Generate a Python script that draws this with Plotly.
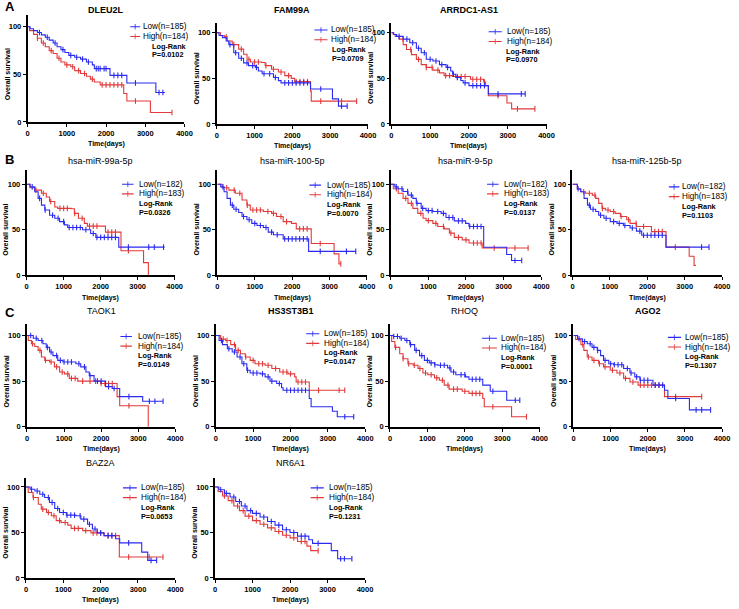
import numpy as np
import plotly.graph_objects as go

W, H = 739, 609

# ---------------- data ----------------
titles = ["DLEU2L", "FAM99A", "ARRDC1-AS1",
          "hsa-miR-99a-5p", "hsa-miR-100-5p", "hsa-miR-9-5p", "hsa-miR-125b-5p",
          "TAOK1", "HS3ST3B1", "RHOQ", "AGO2", "BAZ2A", "NR6A1"]
title_bold = [True, True, True, False, False, False, False, False, True, False, True, False, False]
n_low = ["185", "185", "185", "182", "185", "182", "182", "185", "185", "185", "185", "185", "185"]
n_high = ["184", "184", "184", "183", "184", "183", "183", "184", "184", "184", "184", "184", "184"]
p_values = ["0.0102", "0.0709", "0.0970", "0.0326", "0.0070", "0.0137", "0.1103",
            "0.0149", "0.0147", "0.0001", "0.1307", "0.0653", "0.1231"]
x_ticks = [0, 1000, 2000, 3000, 4000]
y_ticks = [0, 50, 100]

# DLEU2L
dleu2l_low_t = [0, 60, 150, 250, 350, 450, 550, 650, 750, 850, 950, 1050, 1200, 1350, 1500, 1650, 1700, 2100, 2530, 3270, 3500]
dleu2l_low_s = [100, 98, 96, 94, 91.5, 89, 86, 83, 79, 76, 73, 70, 68, 66, 63, 60, 56, 49, 41, 31, 31]
dleu2l_low_c = [300, 500, 700, 900, 1100, 1250, 1400, 1550, 1750, 1800, 1850, 1950, 2000, 2200, 2300, 2400, 2750, 3350, 3450]
dleu2l_high_t = [0, 50, 150, 250, 350, 450, 550, 650, 750, 850, 950, 1100, 1200, 1350, 1500, 1600, 1700, 1850, 2450, 2530, 3130, 3680]
dleu2l_high_s = [100, 96, 92, 88, 83, 79, 75, 72, 67, 63, 60, 58, 54, 51, 48, 45, 42, 39, 30, 22, 10, 10]
dleu2l_high_c = [250, 400, 600, 800, 1000, 1150, 1300, 1450, 1650, 1900, 2000, 2100, 2200, 2300, 2400, 2750, 3680]

# FAM99A
fam99a_low_t = [0, 60, 150, 250, 320, 450, 580, 710, 840, 1020, 1100, 1200, 1500, 1630, 1700, 2480, 3060, 3220, 3450]
fam99a_low_s = [100, 97, 94.6, 91, 87, 78, 72, 67, 64, 62, 58, 55, 51, 47.5, 45, 38.4, 27.5, 19.6, 19.6]
fam99a_low_c = [350, 500, 650, 800, 950, 1050, 1250, 1400, 1550, 1800, 1900, 2000, 2100, 2200, 2300, 2400, 2750, 3300, 3450]
fam99a_high_t = [0, 100, 200, 280, 410, 580, 710, 800, 890, 1190, 1280, 1450, 1630, 1800, 1970, 2060, 2480, 2500, 3700]
fam99a_high_s = [100, 97, 95.6, 91, 87, 82, 76.4, 71, 68, 67.4, 64, 60, 57, 53, 50, 46.4, 36, 25, 25]
fam99a_high_c = [250, 450, 650, 850, 1000, 1100, 1300, 1500, 1700, 1900, 2100, 2200, 2300, 2400, 2750, 3300, 3700]

# ARRDC1-AS1
arrdc1_low_t = [0, 60, 135, 305, 475, 645, 770, 900, 1070, 1240, 1410, 1530, 1580, 1660, 1790, 1850, 2000, 2500, 3450]
arrdc1_low_s = [100, 98, 96, 93, 89, 83, 78, 71, 69, 65, 62, 58, 54.5, 51, 47.6, 45, 42, 33, 33]
arrdc1_low_c = [200, 400, 550, 700, 850, 1000, 1150, 1300, 1450, 1600, 1700, 1900, 2100, 2200, 2300, 2400, 2750, 3350, 3450]
arrdc1_high_t = [0, 50, 100, 200, 305, 390, 517, 645, 770, 900, 1070, 1240, 1360, 1580, 2040, 2380, 2430, 2500, 2980, 3100, 3700]
arrdc1_high_s = [100, 98, 96, 93, 87, 81.6, 76, 70.8, 65, 62, 59, 56, 53, 52, 49, 46, 42, 31, 23, 16.6, 16.6]
arrdc1_high_c = [300, 500, 700, 900, 1050, 1200, 1400, 1500, 1700, 1800, 1900, 2100, 2200, 2300, 2400, 2750, 3250, 3700]

# hsa-miR-99a-5p
mir99a_low_t = [0, 90, 220, 310, 400, 490, 620, 760, 890, 1020, 1110, 1510, 1730, 1870, 2490, 3730]
mir99a_low_s = [100, 97, 91.7, 84.4, 77, 71.7, 66, 62.7, 59, 55.4, 52.5, 50, 46, 41.7, 31, 31]
mir99a_low_c = [150, 350, 500, 700, 850, 1000, 1150, 1250, 1350, 1450, 1600, 1800, 1900, 2000, 2100, 2200, 2300, 2400, 2750, 3300, 3450, 3700]
mir99a_high_t = [0, 90, 220, 400, 530, 620, 760, 840, 1200, 1290, 1400, 1560, 1640, 2130, 2550, 3160, 3290]
mir99a_high_s = [100, 96, 93.5, 90, 86, 81, 75, 73.5, 73, 68, 62.7, 57, 54, 47.5, 27, 14, 0]
mir99a_high_c = [250, 450, 650, 900, 1000, 1100, 1300, 1500, 1700, 1800, 1900, 2200, 2300, 2400, 2750]

# hsa-miR-100-5p
mir100_low_t = [0, 90, 180, 260, 350, 440, 570, 660, 790, 920, 1060, 1230, 1360, 1500, 1760, 2440, 3700]
mir100_low_s = [100, 97, 91.7, 84.4, 77, 72.5, 69, 64.5, 61, 57, 54.7, 52.5, 47.5, 44.6, 40, 26.4, 26.4]
mir100_low_c = [150, 400, 500, 700, 850, 1000, 1150, 1300, 1450, 1600, 1800, 1900, 2000, 2100, 2200, 2300, 2400, 2750, 3450, 3700]
mir100_high_t = [0, 130, 310, 480, 660, 790, 880, 1230, 1450, 1580, 1760, 1980, 2110, 2510, 3120, 3250, 3300]
mir100_high_s = [100, 96, 93.5, 90, 82.6, 77, 71.7, 70, 68, 64.5, 59, 57, 51, 35, 23.6, 12.7, 12.7]
mir100_high_c = [250, 450, 600, 800, 950, 1050, 1150, 1350, 1500, 1700, 1850, 2200, 2300, 2400, 2750, 3300]

# hsa-miR-9-5p
mir9_low_t = [0, 110, 200, 330, 460, 590, 680, 810, 940, 1120, 1340, 1470, 1690, 1990, 2080, 2470, 3080, 3210, 3480]
mir9_low_s = [100, 97, 95, 92, 88, 84.4, 79, 73.5, 71, 70, 68, 63.4, 59.8, 57, 53.6, 30.8, 23, 16.3, 16.3]
mir9_low_c = [150, 300, 450, 550, 700, 850, 1000, 1100, 1250, 1400, 1550, 1650, 1800, 1900, 2100, 2200, 2300, 2400, 3300, 3480]
mir9_high_t = [0, 70, 200, 330, 460, 590, 720, 860, 940, 1120, 1250, 1420, 1560, 1690, 1900, 2080, 2430, 3650]
mir9_high_s = [100, 95, 90, 84.4, 79, 73.5, 68, 62.7, 60, 57, 53.6, 51, 46.4, 41.7, 39, 35.5, 30, 30]
mir9_high_c = [150, 400, 550, 800, 1000, 1200, 1400, 1600, 1800, 2000, 2200, 2300, 2400, 2750, 3300, 3650]

# hsa-miR-125b-5p
mir125b_low_t = [0, 130, 220, 310, 400, 480, 620, 700, 840, 1010, 1190, 1360, 1540, 1710, 1850, 2500, 3650]
mir125b_low_s = [100, 95, 91.7, 84.4, 77, 72.5, 70, 66, 62.7, 59, 57, 54.7, 52, 48.5, 44, 31, 31]
mir125b_low_c = [150, 450, 550, 750, 900, 1100, 1250, 1400, 1600, 1800, 1900, 2000, 2100, 2200, 2300, 2400, 3450, 3650]
mir125b_high_t = [0, 130, 220, 350, 530, 620, 700, 790, 880, 1010, 1140, 1280, 1450, 1540, 1710, 2110, 2500, 3120, 3250, 3300]
mir125b_high_s = [100, 94.5, 91.7, 90, 88, 84.4, 79, 73.5, 71.7, 70, 68, 64.5, 61, 57, 53.6, 48, 31, 21, 11, 11]
mir125b_high_c = [300, 450, 600, 800, 950, 1100, 1300, 1500, 1700, 1900, 2200, 2300, 2400, 2750]

# TAOK1
taok1_low_t = [0, 170, 300, 430, 520, 610, 700, 830, 970, 1320, 1450, 1590, 1680, 1810, 2120, 2300, 2500, 3120, 3670]
taok1_low_s = [100, 97, 94.6, 91, 87, 82, 78, 72.8, 71, 69, 65.6, 60, 56, 50, 44, 42, 33, 28, 28]
taok1_low_c = [100, 250, 400, 550, 650, 800, 900, 1000, 1100, 1200, 1400, 1550, 1700, 1900, 2000, 2200, 2350, 2750, 3300, 3450, 3670]
taok1_high_t = [0, 35, 120, 210, 300, 390, 480, 610, 740, 880, 1010, 1140, 1370, 1990, 2430, 2500, 3270]
taok1_high_s = [100, 94.6, 91, 88, 83.7, 76.4, 72.8, 71, 65.6, 60, 58, 53, 50, 47.5, 33, 23, 0]
taok1_high_c = [150, 350, 500, 650, 800, 950, 1100, 1200, 1300, 1500, 1700, 1850, 2000, 2100, 2200, 2300, 2750]

# HS3ST3B1
hs3st3b1_low_t = [0, 90, 180, 310, 440, 570, 700, 830, 920, 1190, 1320, 1450, 1630, 1760, 1800, 2500, 2550, 3120, 3250, 3690]
hs3st3b1_low_s = [100, 94.6, 90, 85.5, 82, 76.4, 69, 62, 59, 58, 54.7, 50, 47.5, 42.8, 40, 31, 22, 17, 11, 11]
hs3st3b1_low_c = [150, 350, 500, 650, 750, 850, 1000, 1100, 1250, 1400, 1500, 1700, 1900, 2000, 2100, 2200, 2300, 2400, 3450, 3690]
hs3st3b1_high_t = [0, 130, 260, 400, 530, 660, 790, 920, 1050, 1320, 1500, 1710, 1930, 2110, 2150, 2500, 3450]
hs3st3b1_high_s = [100, 96, 94.6, 90, 83.7, 80, 76.4, 72.8, 69, 67.4, 63.8, 60, 58, 54.7, 49, 40, 40]
hs3st3b1_high_c = [200, 300, 500, 600, 800, 1000, 1150, 1250, 1400, 1600, 1800, 1900, 2000, 2200, 2300, 2400, 2750, 3300, 3450]

# RHOQ
rhoq_low_t = [0, 90, 260, 400, 530, 660, 790, 920, 1050, 1190, 1280, 1540, 1630, 1760, 2020, 2110, 2480, 2680, 3120, 3470]
rhoq_low_s = [100, 99, 97, 94.6, 90, 83.7, 78, 72.8, 70, 68, 67.4, 64.5, 60, 57, 54.7, 52, 45.6, 39, 29, 29]
rhoq_low_c = [100, 200, 300, 450, 550, 700, 850, 1000, 1100, 1200, 1350, 1450, 1600, 1700, 1900, 2000, 2200, 2300, 2400, 2750, 3350, 3470]
rhoq_high_t = [0, 45, 130, 260, 350, 480, 620, 750, 880, 1010, 1190, 1320, 1450, 1580, 1930, 2110, 2480, 2520, 3250, 3650]
rhoq_high_s = [100, 93.5, 87, 80, 74.6, 69, 67.4, 63.8, 59, 57, 53.6, 51, 45.6, 41.3, 39, 36.6, 31, 22, 11, 11]
rhoq_high_c = [150, 350, 500, 650, 800, 950, 1100, 1250, 1400, 1550, 1700, 1800, 2000, 2200, 2300, 2400, 2750, 3650]

# AGO2
ago2_low_t = [0, 110, 240, 370, 500, 640, 730, 810, 950, 1080, 1350, 1520, 1650, 1790, 2140, 2450, 2540, 3120, 3690]
ago2_low_s = [100, 96.4, 93.5, 91, 87, 83.7, 78, 72.8, 69, 68, 63.8, 59, 54.7, 51, 45.6, 40, 31, 18.5, 18.5]
ago2_low_c = [150, 300, 450, 550, 650, 850, 1000, 1100, 1200, 1300, 1450, 1550, 1700, 1800, 1900, 2000, 2200, 2300, 2400, 2750, 3300, 3450, 3690]
ago2_high_t = [0, 60, 200, 280, 370, 500, 680, 810, 990, 1170, 1350, 1520, 1740, 2450, 3450]
ago2_high_s = [100, 95.6, 90, 83.7, 76.4, 72.8, 69, 65.6, 62, 59, 53, 49, 45.6, 33, 33]
ago2_high_c = [250, 400, 550, 700, 850, 1050, 1250, 1400, 1600, 1800, 1900, 2000, 2100, 2200, 2300, 2750, 3450]

# BAZ2A
baz2a_low_t = [0, 110, 240, 370, 500, 630, 770, 900, 1080, 1340, 1470, 1650, 1780, 1910, 2090, 2400, 2510, 3100, 3260, 3500]
baz2a_low_s = [100, 97.5, 95.6, 92, 88.4, 83, 76.4, 72, 69, 68.4, 64.7, 59, 53.8, 49.5, 46.5, 43, 38.5, 28.4, 19.3, 19.3]
baz2a_low_c = [150, 300, 450, 600, 700, 850, 1000, 1100, 1200, 1300, 1450, 1550, 1700, 1850, 2000, 2200, 2300, 2750, 3350, 3500]
baz2a_high_t = [0, 60, 190, 330, 410, 550, 680, 810, 940, 1120, 1210, 1520, 1740, 2090, 2500, 3670]
baz2a_high_s = [100, 94, 88.4, 81, 75.6, 72, 68.4, 63, 61, 58, 54.5, 52, 49.5, 46.5, 23, 23]
baz2a_high_c = [200, 450, 600, 750, 900, 1050, 1300, 1400, 1600, 1800, 1900, 2000, 2200, 2300, 2400, 2750, 3300, 3670]

# NR6A1
nr6a1_low_t = [0, 100, 250, 400, 550, 700, 850, 1000, 1200, 1400, 1600, 1800, 2000, 2200, 2500, 2600, 3100, 3270, 3650]
nr6a1_low_s = [100, 97, 93, 89, 84, 79, 74, 71, 67, 62, 58, 53, 50, 46, 42, 38, 30, 21, 21]
nr6a1_low_c = [150, 300, 500, 650, 800, 950, 1100, 1300, 1500, 1700, 1900, 2100, 2300, 2400, 2750, 3350, 3450, 3650]
nr6a1_high_t = [0, 80, 200, 350, 500, 650, 800, 1000, 1200, 1400, 1600, 1800, 2000, 2200, 2450, 2550, 2750]
nr6a1_high_s = [100, 95, 90, 85, 79, 74, 68, 63, 59, 55, 51, 47, 44, 40, 35, 30, 30]
nr6a1_high_c = [250, 450, 600, 750, 900, 1100, 1300, 1500, 1700, 1900, 2100, 2300, 2400, 2750]

low_series = [
    (dleu2l_low_t, dleu2l_low_s, dleu2l_low_c), (fam99a_low_t, fam99a_low_s, fam99a_low_c),
    (arrdc1_low_t, arrdc1_low_s, arrdc1_low_c), (mir99a_low_t, mir99a_low_s, mir99a_low_c),
    (mir100_low_t, mir100_low_s, mir100_low_c), (mir9_low_t, mir9_low_s, mir9_low_c),
    (mir125b_low_t, mir125b_low_s, mir125b_low_c), (taok1_low_t, taok1_low_s, taok1_low_c),
    (hs3st3b1_low_t, hs3st3b1_low_s, hs3st3b1_low_c), (rhoq_low_t, rhoq_low_s, rhoq_low_c),
    (ago2_low_t, ago2_low_s, ago2_low_c), (baz2a_low_t, baz2a_low_s, baz2a_low_c),
    (nr6a1_low_t, nr6a1_low_s, nr6a1_low_c)]
high_series = [
    (dleu2l_high_t, dleu2l_high_s, dleu2l_high_c), (fam99a_high_t, fam99a_high_s, fam99a_high_c),
    (arrdc1_high_t, arrdc1_high_s, arrdc1_high_c), (mir99a_high_t, mir99a_high_s, mir99a_high_c),
    (mir100_high_t, mir100_high_s, mir100_high_c), (mir9_high_t, mir9_high_s, mir9_high_c),
    (mir125b_high_t, mir125b_high_s, mir125b_high_c), (taok1_high_t, taok1_high_s, taok1_high_c),
    (hs3st3b1_high_t, hs3st3b1_high_s, hs3st3b1_high_c), (rhoq_high_t, rhoq_high_s, rhoq_high_c),
    (ago2_high_t, ago2_high_s, ago2_high_c), (baz2a_high_t, baz2a_high_s, baz2a_high_c),
    (nr6a1_high_t, nr6a1_high_s, nr6a1_high_c)]

# ---------------- layout geometry (pixels) ----------------
# (x at 0 days, x at 4000 days, y at 0%, y at 100%, y of axis top, title y)
geo = [
    (26, 185, 123, 27, 15, 10), (217.7, 371, 125, 33, 23, 10), (394.7, 552, 125, 33, 23, 10),
    (25, 175, 277.7, 185.7, 171.7, 162.7), (218.3, 370, 277.7, 185.7, 171.7, 162.7),
    (394, 546.7, 277.7, 185.7, 171.7, 162.7), (578.3, 730, 277.7, 185.7, 171.7, 162.7),
    (25.3, 175.7, 430.3, 338.3, 326.7, 314), (216.7, 368.3, 430.3, 338.3, 326.7, 314),
    (393.3, 545, 430.3, 338.3, 326.7, 314), (579.3, 730, 430.3, 338.3, 326.7, 314),
    (24.3, 175.7, 582.7, 491, 481.7, 466.7), (216, 368, 582.7, 491, 481.7, 466.7)]
# legend placement: line x0, line x1, text x, logrank x (days), first row y (percent)
leg = [
    (2616, 2870, 2910, 3150, 100), (2583, 2930, 3000, 3035, 103),
    (2508, 2847, 2949, 2930, 101), (2578, 2889, 3022, 3022, 100),
    (2461, 2769, 2901, 2901, 99), (2559, 2865, 2996, 2996, 100),
    (2576, 2857, 2901, 2901, 97), (2519, 2829, 2980, 2980, 99),
    (2418, 2769, 2857, 2857, 102), (2462, 2857, 2945, 2945, 97),
    (2540, 2894, 2982, 2982, 98), (2599, 2969, 3057, 3057, 99),
    (2550, 2900, 3000, 3000, 99)]
row_px = [0, 9.8, 19.4, 28.4]   # pixel offsets of legend rows

BLUE = "#2a2af2"
RED = "#e23a3a"
FONT = "Liberation Sans"

fig = go.Figure()
layout = dict(width=W, height=H, margin=dict(l=0, r=0, t=0, b=0), autosize=False,
              paper_bgcolor="white", plot_bgcolor="white", showlegend=False)
annotations = []


def step_value(t, s, c):
    t = np.asarray(t, float)
    s = np.asarray(s, float)
    idx = np.searchsorted(t, np.asarray(c, float), side="right") - 1
    return s[np.clip(idx, 0, len(s) - 1)]


def pxx(x):
    return x / W


def pxy(y):
    return 1 - y / H


for i in range(len(titles)):
    k = i + 1
    sx = "" if k == 1 else str(k)
    xa, ya = "x" + sx, "y" + sx
    x0, x1, y0, y100, ytop, ty = geo[i]
    ppu = (y0 - y100) / 100.0          # pixels per percent
    ymax = (y0 - ytop) / ppu
    axis_common = dict(showline=True, linecolor="black", linewidth=1.7, ticks="outside",
                       ticklen=3, tickwidth=1.2, tickcolor="black", showgrid=False, zeroline=False,
                       tickfont=dict(family=FONT, size=7.5, color="black", weight="bold"), fixedrange=True)
    layout["xaxis" + sx] = dict(domain=[pxx(x0), pxx(x1)], range=[0, 4000], anchor=ya,
                                tickvals=x_ticks, ticktext=[str(v) for v in x_ticks], **axis_common)
    layout["yaxis" + sx] = dict(domain=[pxy(y0), pxy(ytop)], range=[0, ymax], anchor=xa,
                                tickvals=y_ticks, ticktext=[str(v) for v in y_ticks], **axis_common)

    for (t, s, c), col in ((high_series[i], RED), (low_series[i], BLUE)):
        fig.add_trace(go.Scatter(x=t, y=s, mode="lines", line=dict(shape="hv", color=col, width=1.1),
                                 xaxis=xa, yaxis=ya, hoverinfo="skip", cliponaxis=False))
        fig.add_trace(go.Scatter(x=c, y=step_value(t, s, c), mode="markers",
                                 marker=dict(symbol="line-ns", size=4, color=col,
                                             line=dict(color=col, width=1.1)),
                                 xaxis=xa, yaxis=ya, hoverinfo="skip", cliponaxis=False))

    lx0, lx1, tx, lrx, yl = leg[i]
    rows = [yl - r / ppu for r in row_px]
    for yy, col, lab in ((rows[0], BLUE, f"Low(n={n_low[i]})"), (rows[1], RED, f"High(n={n_high[i]})")):
        fig.add_trace(go.Scatter(x=[lx0, (lx0 + lx1) / 2, lx1], y=[yy] * 3, mode="lines+markers",
                                 line=dict(color=col, width=1.1),
                                 marker=dict(symbol="line-ns", size=[0, 4, 0], color=col,
                                             line=dict(color=col, width=1.1)),
                                 xaxis=xa, yaxis=ya, hoverinfo="skip", cliponaxis=False))
        annotations.append(dict(x=tx, y=yy, xref=xa, yref=ya, text=lab, showarrow=False,
                                xanchor="left", yanchor="middle", borderpad=0,
                                font=dict(family=FONT, size=8.2, color="black")))
    annotations.append(dict(x=lrx, y=rows[2], xref=xa, yref=ya, text="Log-Rank", showarrow=False,
                            xanchor="left", yanchor="middle", borderpad=0,
                            font=dict(family=FONT, size=7.3, color="black", weight="bold")))
    annotations.append(dict(x=lrx, y=rows[3], xref=xa, yref=ya, text=f"P={p_values[i]}", showarrow=False,
                            xanchor="left", yanchor="middle", borderpad=0,
                            font=dict(family=FONT, size=7.3, color="black", weight="bold")))

    # title
    annotations.append(dict(x=pxx((x0 + x1) / 2), y=pxy(ty), xref="paper", yref="paper",
                            text=titles[i], showarrow=False, xanchor="center", yanchor="middle",
                            font=dict(family=FONT, size=9, color="black",
                                      weight="bold" if title_bold[i] else "normal")))
    # axis titles
    annotations.append(dict(x=pxx((x0 + x1) / 2), y=pxy(y0 + 22.5), xref="paper", yref="paper",
                            text="Time(days)", showarrow=False, xanchor="center", yanchor="middle",
                            font=dict(family=FONT, size=7, color="black", weight="bold")))
    annotations.append(dict(x=pxx(x0 - 21), y=pxy((y0 + y100) / 2), xref="paper", yref="paper",
                            text="Overall survival", showarrow=False, textangle=-90,
                            xanchor="center", yanchor="middle",
                            font=dict(family=FONT, size=7, color="black", weight="bold")))

for letter, ly in (("A", 7), ("B", 161), ("C", 315)):
    annotations.append(dict(x=pxx(1), y=pxy(ly), xref="paper", yref="paper", text=letter,
                            showarrow=False, xanchor="left", yanchor="middle",
                            font=dict(family=FONT, size=13, color="black", weight="bold")))

layout["annotations"] = annotations
fig.update_layout(**layout)
fig.write_html("out.html", config={"displayModeBar": False},
               post_script="document.body.style.margin='0';")
